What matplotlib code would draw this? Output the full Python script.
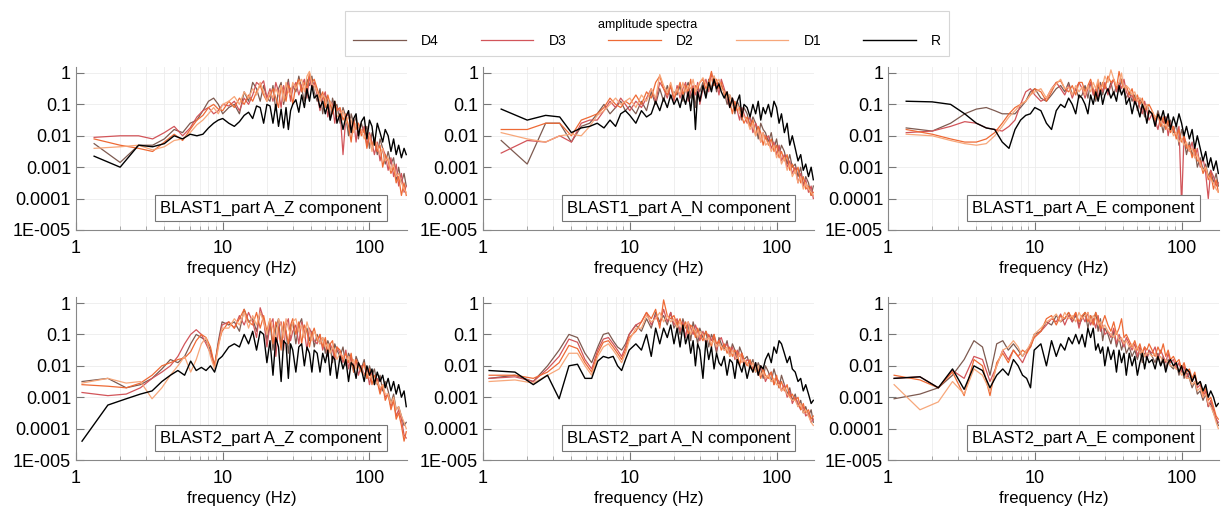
import numpy as np
import matplotlib
matplotlib.use('Agg')
import matplotlib.pyplot as plt
from matplotlib.ticker import LogLocator, NullFormatter

plt.rcParams['font.family'] = ['Liberation Sans', 'DejaVu Sans']

# frequency samples (Hz) picked along the curves
freq_hi = [21, 22, 23, 24, 25, 26, 27, 28, 29, 30,
           31.5, 33, 34.5, 36, 37.5, 39, 40.5, 42,
           44, 46, 48, 50, 52, 54, 56, 58, 60,
           63, 66, 69, 72, 75, 78, 81, 84,
           88, 92, 96, 100, 104, 108,
           113, 118, 123, 128,
           134, 140, 146, 152, 158,
           165, 172, 178]
freq_top = [1.33, 2.0, 2.67, 3.33, 4.0, 4.67, 5.33, 6.0, 6.67, 7.33,
            8.0, 8.67, 9.33, 10.0, 11.0, 12.0, 13.0, 14.0, 15.0, 16.0,
            17.0, 18.0, 19.0, 20.0] + freq_hi
freq_bot = [1.1, 1.65, 2.2, 2.75, 3.3, 3.85, 4.4, 4.95, 5.5, 6.05,
            6.6, 7.15, 7.7, 8.25, 8.8, 9.35, 9.9, 11.0, 12.0, 13.0,
            14.0, 15.0, 16.0, 17.0, 18.0, 19.0, 20.0] + freq_hi

# log10 of amplitude (first row of each list: up to 20 Hz)
# BLAST1 Z
b1z_D4 = [-2.25, -2.85, -2.3, -2.3, -2.1, -1.8, -1.9, -1.6, -1.5, -1.2, -0.9, -0.8, -1.0, -1.3, -1.1, -1.0, -1.3, -0.6, -0.9, -0.3, -0.5, -0.9, -0.4, -0.8,
          -0.9, -0.4, -1.2, -0.5, -0.3, -1.0, -0.6, -0.2, -0.8, -0.4, -0.6, -0.1, -0.5, -0.9, -0.2, -0.4, -0.1, -0.6,
          -0.9, -0.5, -1.3, -0.7, -0.9, -1.5, -0.8, -1.1, -1.0, -1.6, -1.1, -1.4, -2.0, -1.3, -1.6, -1.4, -2.1,
          -1.6, -1.9, -1.7, -2.4, -1.9, -2.1, -2.6, -2.1, -2.4, -2.9, -2.5, -2.9, -2.7, -3.4, -3.0, -3.5, -3.2, -3.6]
b1z_D3 = [-2.05, -2.0, -2.0, -2.1, -1.9, -1.7, -2.0, -1.75, -1.4, -1.2, -1.1, -1.3, -1.2, -1.0, -1.05, -0.9, -1.2, -0.8, -1.0, -0.7, -0.3, -0.4, -0.25, -0.8,
          -0.5, -0.9, -0.3, -0.6, -1.1, -0.4, -0.7, -0.3, -0.9, -0.5, -0.3, -0.7, -0.4, -0.2, -0.8, -0.1, -0.5, -0.3,
          -0.7, -1.2, -0.8, -0.6, -1.4, -0.9, -1.0, -1.6, -1.1, -1.2, -2.6, -1.4, -1.3, -1.8, -1.5, -2.2, -1.6,
          -1.9, -1.7, -2.3, -1.9, -2.2, -2.6, -2.2, -2.8, -2.4, -2.6, -3.1, -2.7, -3.3, -2.9, -3.6, -3.2, -3.8, -3.6]
b1z_D2 = [-2.1, -2.3, -2.4, -2.5, -2.2, -1.95, -2.15, -1.8, -1.5, -1.35, -1.1, -1.0, -1.15, -1.2, -0.9, -1.1, -0.8, -1.0, -0.7, -0.9, -0.6, -0.4, -0.7, -0.9,
          -0.7, -0.5, -0.8, -1.1, -0.4, -0.6, -0.9, -0.4, -0.5, -1.0, -0.4, -0.2, -0.6, -0.3, -0.5, 0.0, -0.3, -0.2,
          -0.5, -0.8, -0.6, -1.1, -0.7, -1.0, -1.3, -0.9, -1.2, -1.1, -1.5, -1.3, -1.7, -2.2, -1.5, -1.8, -1.6,
          -2.0, -1.8, -2.4, -2.0, -2.3, -2.1, -2.5, -2.3, -3.0, -2.6, -2.8, -3.2, -3.0, -3.5, -3.3, -3.9, -3.5, -3.9]
b1z_D1 = [-2.4, -2.35, -2.3, -2.45, -2.35, -2.15, -2.1, -1.9, -1.65, -1.5, -1.3, -1.1, -1.3, -1.0, -0.9, -0.75, -1.0, -0.6, -0.8, -0.5, -0.7, -0.3, -0.6, -0.9,
          -0.6, -0.8, -0.5, -0.7, -0.4, -0.9, -0.3, -0.6, -0.7, -0.3, -0.5, -0.3, -0.2, -0.6, -0.1, 0.05, -0.35, -0.4,
          -0.6, -0.9, -0.7, -0.8, -1.2, -0.9, -1.1, -1.0, -1.4, -1.3, -1.2, -1.6, -1.4, -1.5, -1.9, -1.6, -1.7,
          -1.8, -2.1, -1.9, -2.0, -2.5, -2.1, -2.3, -2.6, -2.4, -2.8, -2.7, -3.1, -2.9, -3.3, -3.2, -3.5, -3.7, -3.8]
b1z_R = [-2.65, -3.0, -2.3, -2.35, -2.25, -2.0, -2.1, -1.95, -2.0, -1.95, -1.75, -1.6, -1.5, -1.45, -1.6, -1.7, -1.55, -1.35, -1.25, -1.45, -1.05, -1.1, -1.6, -1.0,
         -1.05, -1.6, -1.0, -1.7, -1.15, -1.75, -1.1, -1.8, -1.2, -1.0, -0.85, -1.25, -0.7, -1.1, -0.5, -0.9, -0.4, -0.8,
         -0.7, -1.1, -0.9, -1.3, -1.0, -1.5, -1.2, -0.9, -1.6, -1.3, -1.8, -1.4, -1.2, -1.9, -1.45, -1.3, -2.0,
         -1.55, -1.4, -2.1, -1.5, -1.7, -2.3, -1.6, -1.9, -2.2, -1.8, -2.0, -2.5, -2.1, -2.6, -2.3, -2.7, -2.4, -2.6]

# BLAST1 N
b1n_D4 = [-2.15, -2.9, -1.6, -1.6, -2.2, -1.7, -1.6, -1.3, -1.0, -1.3, -1.1, -0.9, -1.2, -1.05, -1.3, -0.9, -1.2, -0.6, -1.0, -0.5, -0.9, -0.4, -0.8, -0.6,
          -0.7, -0.4, -0.9, -0.5, -0.3, -0.8, -0.5, -1.1, -0.4, -0.6, -0.3, -0.7, -0.2, -0.5, -0.1, -0.6, -0.3, -0.4,
          -0.6, -1.0, -0.7, -0.9, -1.3, -0.9, -1.1, -1.5, -1.1, -1.3, -1.7, -1.4, -1.6, -2.1, -1.6, -1.8, -1.9,
          -2.2, -1.9, -2.4, -2.1, -2.6, -2.3, -2.5, -2.9, -2.6, -3.0, -2.9, -3.3, -3.0, -3.6, -3.3, -3.5, -3.9, -3.6]
b1n_D3 = [-2.55, -2.15, -2.2, -2.0, -2.2, -1.6, -1.5, -1.5, -1.2, -0.9, -1.1, -0.8, -1.0, -1.2, -0.9, -1.1, -0.8, -0.5, -0.9, -0.3, -0.5, -0.8, -0.4, -0.9,
          -0.4, -0.8, -0.5, -0.3, -0.9, -0.6, -0.4, -0.7, -0.3, -1.0, -0.5, -0.2, -0.6, 0.0, -0.4, -0.3, -0.7, -0.2,
          -0.5, -0.8, -1.1, -0.8, -1.0, -1.2, -1.5, -1.1, -1.3, -1.6, -1.4, -1.9, -1.6, -1.8, -2.2, -1.9, -2.1,
          -2.0, -2.4, -2.2, -2.6, -2.3, -2.8, -2.6, -3.0, -2.8, -3.2, -3.0, -3.5, -3.2, -3.6, -3.4, -3.8, -3.6, -4.0]
b1n_D2 = [-1.8, -1.8, -1.6, -1.6, -2.0, -1.5, -1.4, -1.3, -1.1, -0.8, -1.0, -1.1, -0.9, -1.0, -0.7, -1.0, -0.6, -0.8, -0.3, -0.1, -0.5, -0.7, -0.4, -0.8,
          -0.6, -0.3, -0.7, -0.4, -0.6, -0.2, -0.8, -0.4, -0.5, -0.3, -0.2, -0.5, -0.3, 0.05, -0.4, -0.2, -0.5, -0.3,
          -0.7, -0.6, -0.9, -1.3, -0.9, -1.2, -1.1, -1.4, -1.6, -1.4, -1.7, -1.5, -2.0, -1.7, -1.9, -2.3, -2.0,
          -2.3, -2.1, -2.5, -2.3, -2.7, -2.5, -2.8, -2.6, -3.1, -2.9, -3.2, -3.0, -3.5, -3.3, -3.7, -3.6, -3.9, -3.8]
b1n_D1 = [-1.9, -2.1, -2.2, -2.0, -1.95, -2.0, -1.7, -1.35, -1.2, -1.0, -0.8, -1.0, -0.9, -0.8, -1.1, -0.7, -0.9, -0.5, -0.8, -0.05, -0.4, -0.6, -0.3, -0.7,
          -0.5, -0.7, -0.3, -0.6, -0.4, -0.5, -0.2, -0.6, -0.4, -0.3, -0.15, -0.35, -0.5, -0.2, -0.1, -0.3, -0.2, -0.5,
          -0.6, -0.8, -0.7, -1.0, -1.1, -1.0, -1.3, -1.2, -1.4, -1.5, -1.8, -1.6, -2.0, -1.8, -2.2, -1.9, -2.3,
          -2.2, -2.5, -2.3, -2.7, -2.5, -2.9, -2.7, -3.1, -2.9, -3.3, -3.1, -3.5, -3.3, -3.7, -3.5, -3.7, -3.8, -3.9]
b1n_R = [-1.15, -1.5, -1.35, -1.4, -1.9, -1.75, -1.7, -1.6, -1.75, -1.5, -1.7, -1.3, -1.2, -1.35, -1.6, -1.2, -1.4, -1.3, -0.9, -1.2, -0.8, -1.1, -0.7, -1.0,
         -0.8, -1.1, -0.7, -1.0, -0.6, -1.2, -0.5, -1.8, -0.6, -0.9, -0.4, -0.8, -0.3, -0.6, -0.2, -0.5, -0.35, -0.6,
         -0.8, -0.6, -1.1, -0.8, -1.2, -0.9, -0.7, -1.4, -1.0, -1.1, -1.4, -1.0, -1.3, -0.9, -1.5, -1.1, -1.3,
         -1.0, -1.4, -0.9, -1.1, -1.6, -1.3, -1.9, -1.6, -2.3, -2.0, -2.4, -2.8, -2.6, -3.1, -2.9, -3.3, -3.0, -3.4]

# BLAST1 E
b1e_D4 = [-1.75, -1.85, -1.6, -1.3, -1.15, -1.1, -1.2, -1.3, -1.3, -1.3, -1.1, -0.9, -0.6, -0.5, -0.8, -0.9, -0.7, -0.5, -0.4, -0.6, -0.3, -0.7, -0.5, -0.8,
          -0.7, -0.4, -0.8, -0.3, -0.6, -0.9, -0.5, -0.3, -0.7, -0.4, -0.6, -0.3, -0.7, -0.4, -0.6, -0.2, -0.5, -0.8,
          -0.6, -0.9, -0.7, -1.2, -0.8, -1.0, -1.4, -1.0, -1.2, -1.3, -1.6, -1.2, -1.5, -1.9, -1.4, -1.7, -1.5,
          -1.9, -1.6, -2.3, -1.8, -2.1, -2.6, -2.2, -2.6, -2.4, -3.0, -2.7, -3.1, -2.9, -3.3, -3.1, -3.5, -3.2, -3.6]
b1e_D3 = [-1.9, -1.85, -1.7, -1.55, -1.6, -1.75, -1.8, -1.85, -1.7, -1.5, -1.0, -0.6, -0.5, -0.7, -0.9, -0.8, -0.5, -0.3, -0.5, -0.7, -0.4, -0.8, -0.5, -0.3,
          -0.5, -0.8, -0.5, -0.3, -0.7, -0.5, -0.8, -0.4, -0.6, -0.3, -0.7, -0.4, -0.2, -0.6, -0.3, -0.5, -0.2, -0.6,
          -0.8, -0.7, -1.0, -0.8, -1.1, -1.3, -0.9, -1.2, -1.5, -1.3, -1.5, -1.8, -1.4, -1.6, -1.4, -2.0, -1.6,
          -1.8, -2.0, -1.7, -4.2, -2.0, -2.3, -2.5, -2.2, -2.7, -2.4, -3.0, -2.7, -3.2, -4.0, -3.1, -3.3, -3.6, -3.5]
b1e_D2 = [-1.8, -1.95, -2.1, -2.2, -2.2, -2.1, -1.9, -1.6, -1.3, -1.1, -1.0, -0.9, -0.7, -0.5, -0.6, -0.9, -0.6, -0.3, -0.25, -0.5, -0.6, -0.4, -0.7, -0.3,
          -0.3, -0.6, -0.4, -0.2, -0.5, -0.8, -0.3, -0.6, -0.3, -0.5, -0.1, -0.3, -0.2, -0.5, 0.05, -0.3, -0.5, -0.4,
          -0.7, -0.5, -0.9, -0.7, -1.0, -0.8, -1.2, -1.1, -1.0, -1.2, -1.5, -1.3, -1.7, -1.4, -1.8, -1.5, -1.9,
          -1.7, -2.1, -1.8, -2.2, -2.0, -2.4, -2.3, -2.7, -2.4, -2.8, -2.8, -3.2, -3.0, -3.4, -3.2, -3.7, -3.4, -3.8]
b1e_D1 = [-1.95, -2.0, -2.15, -2.25, -2.3, -2.25, -2.0, -1.7, -1.4, -1.2, -1.0, -0.9, -0.7, -0.6, -0.5, -0.8, -0.5, -0.35, -0.2, -0.5, -0.45, -0.7, -0.4, -0.6,
          -0.45, -0.7, -0.4, -0.6, -0.3, -0.5, -0.2, -0.5, -0.4, -0.1, -0.3, 0.1, -0.2, -0.4, -0.3, 0.0, -0.6, -0.4,
          -0.5, -0.7, -0.6, -0.9, -0.8, -0.9, -1.1, -1.0, -1.3, -1.2, -1.4, -1.3, -1.5, -1.7, -1.6, -1.8, -1.7,
          -2.0, -1.9, -2.2, -2.1, -2.3, -2.2, -2.5, -2.4, -2.7, -2.6, -2.9, -3.1, -3.0, -3.3, -3.4, -3.5, -3.7, -3.8]
b1e_R = [-0.9, -0.92, -1.0, -1.3, -1.6, -1.75, -1.8, -2.2, -2.4, -1.8, -1.5, -1.35, -1.3, -1.1, -1.2, -1.6, -1.8, -1.2, -1.0, -1.1, -0.8, -1.0, -1.3, -0.7,
         -0.8, -1.0, -1.3, -0.7, -1.0, -0.6, -0.9, -0.55, -1.0, -0.7, -0.5, -0.8, -0.6, -0.9, -0.4, -0.7, -0.5, -1.0,
         -0.8, -1.3, -0.9, -1.1, -1.4, -1.0, -1.2, -1.6, -1.2, -1.3, -1.7, -1.3, -1.5, -1.2, -1.6, -1.3, -1.8,
         -1.4, -1.7, -1.3, -1.6, -2.0, -1.7, -2.1, -1.8, -2.4, -2.0, -2.4, -2.8, -2.5, -3.0, -2.7, -3.1, -2.8, -3.2]

# BLAST2 Z
b2z_D4 = [-2.5, -2.4, -2.7, -2.6, -2.4, -2.1, -1.8, -1.9, -1.7, -1.3, -1.0, -1.1, -1.2, -1.5, -2.0, -1.2, -0.6, -0.7, -0.6, -0.9, -0.2, -0.6, -0.5, -0.9, -0.3, -0.5, -1.2,
          -0.6, -1.5, -0.8, -0.5, -1.4, -0.7, -0.9, -1.6, -0.8, -0.6, -1.3, -0.7, -0.5, -1.1, -0.8, -1.2, -0.9, -1.4,
          -1.0, -1.3, -1.1, -1.6, -1.2, -1.4, -1.9, -1.3, -1.5, -1.7, -1.4, -2.0, -1.6, -1.8, -2.2, -1.7, -1.9,
          -2.1, -1.8, -2.4, -2.0, -2.3, -2.1, -2.6, -2.3, -2.8, -2.5, -2.8, -3.2, -2.9, -3.4, -3.3, -3.6, -3.9, -3.8]
b2z_D3 = [-2.85, -2.95, -2.9, -2.7, -2.4, -2.2, -2.0, -1.7, -1.3, -1.0, -0.85, -1.0, -1.3, -1.6, -2.0, -1.3, -0.7, -0.6, -0.8, -0.4, -0.7, -0.3, -0.6, -1.1, -0.15, -0.5, -1.4,
          -0.7, -0.5, -1.7, -0.8, -0.6, -1.5, -0.7, -0.5, -1.2, -0.9, -0.7, -1.3, -0.6, -0.9, -1.5, -0.8, -1.0, -1.2,
          -1.3, -1.0, -1.5, -1.2, -1.7, -1.3, -1.5, -1.8, -1.4, -1.6, -1.9, -1.5, -2.1, -1.7, -2.0, -1.8, -2.3,
          -2.0, -2.3, -2.1, -2.6, -2.2, -2.5, -2.4, -2.8, -2.6, -3.0, -2.9, -3.3, -3.1, -3.6, -3.4, -3.7, -4.2, -4.3]
b2z_D2 = [-2.6, -2.65, -2.7, -2.55, -2.3, -2.0, -1.9, -1.8, -1.75, -1.55, -1.2, -1.0, -1.1, -1.4, -2.0, -1.3, -0.9, -0.6, -0.8, -0.5, -0.2, -0.6, -0.7, -0.3, -0.8, -0.4, -0.9,
          -0.5, -1.3, -0.6, -0.8, -1.5, -0.6, -0.9, -1.3, -0.7, -0.5, -1.0, -0.6, -1.3, -0.7, -0.9, -1.4, -1.0, -0.8,
          -1.2, -1.0, -1.4, -1.1, -1.6, -1.3, -1.2, -1.7, -1.4, -1.5, -1.8, -1.6, -1.9, -1.6, -2.2, -1.8, -2.0,
          -2.2, -1.9, -2.4, -2.1, -2.6, -2.3, -2.5, -2.9, -2.6, -3.1, -2.9, -3.4, -3.1, -3.7, -3.5, -3.9, -4.4, -4.1]
b2z_D1 = [-2.55, -2.4, -2.55, -2.5, -3.05, -2.7, -2.3, -2.0, -1.7, -2.2, -1.8, -1.3, -1.1, -1.7, -2.1, -1.4, -0.8, -0.8, -0.5, -0.7, -0.3, -0.8, -0.4, -0.7, -0.3, -0.6, -1.0,
          -0.5, -0.8, -1.2, -0.5, -0.7, -1.1, -0.5, -0.8, -1.0, -0.6, -0.5, -0.9, -0.7, -1.1, -0.6, -0.9, -1.2, -0.9,
          -1.1, -1.3, -1.1, -1.4, -1.3, -1.6, -1.4, -1.5, -1.8, -1.6, -1.7, -1.9, -1.7, -2.0, -1.8, -2.1, -1.9,
          -2.1, -2.3, -2.2, -2.4, -2.3, -2.6, -2.5, -2.7, -2.6, -2.9, -2.9, -3.2, -3.0, -3.4, -3.3, -3.6, -3.8, -4.0]
b2z_R = [-4.4, -3.25, -3.05, -2.9, -2.8, -2.5, -2.3, -2.15, -2.3, -1.85, -2.15, -2.05, -2.15, -2.0, -2.2, -1.8, -1.7, -1.4, -1.3, -1.4, -1.0, -1.3, -0.9, -1.5, -0.9, -1.0, -1.9,
         -1.2, -2.3, -1.1, -1.4, -2.5, -1.2, -1.3, -2.4, -1.3, -1.5, -2.2, -1.4, -1.3, -2.0, -1.4, -1.6, -2.2, -1.5,
         -1.6, -2.2, -1.6, -1.9, -1.5, -2.3, -1.7, -1.8, -2.4, -1.7, -2.1, -1.8, -2.5, -1.9, -2.0, -2.4, -1.9,
         -2.1, -2.5, -2.0, -2.3, -2.1, -2.6, -2.2, -2.5, -2.3, -2.7, -2.4, -2.8, -2.5, -2.9, -2.6, -3.0, -2.8, -3.3]

# BLAST2 N
b2n_D4 = [-2.4, -2.3, -2.5, -2.0, -1.5, -1.0, -1.1, -1.6, -1.9, -1.4, -1.0, -0.95, -1.2, -1.4, -1.5, -1.3, -1.0, -0.7, -0.9, -0.5, -0.8, -0.3, -0.6, -0.4, -0.7, -0.3, -0.8,
          -0.6, -1.0, -0.5, -0.8, -0.7, -1.2, -0.6, -0.9, -1.3, -0.8, -1.1, -0.9, -1.4, -1.0, -1.2, -1.6, -1.1, -1.3,
          -1.5, -1.2, -1.7, -1.3, -1.5, -1.9, -1.4, -1.6, -1.8, -1.7, -2.0, -1.8, -2.2, -1.9, -2.1, -2.4, -2.0,
          -2.2, -2.5, -2.1, -2.4, -2.7, -2.3, -2.6, -2.9, -2.7, -3.1, -2.9, -3.3, -3.1, -3.5, -3.3, -3.6, -3.4, -3.8]
b2n_D3 = [-2.4, -2.35, -2.5, -2.1, -1.7, -1.15, -1.25, -1.8, -2.1, -1.5, -1.15, -1.1, -1.3, -1.5, -1.7, -1.4, -1.0, -0.7, -0.6, -0.3, -0.7, -0.4, -0.7, -0.2, -0.6, -0.3, -0.7,
          -0.5, -0.9, -0.6, -1.1, -0.6, -0.8, -1.0, -0.7, -0.9, -1.2, -0.9, -1.3, -1.0, -1.2, -1.0, -1.5, -1.2, -1.1,
          -1.4, -1.3, -1.6, -1.4, -1.8, -1.5, -1.7, -1.6, -2.0, -1.8, -1.9, -2.1, -1.9, -2.3, -2.0, -2.2, -2.5,
          -2.3, -2.2, -2.6, -2.4, -2.5, -2.8, -2.6, -3.0, -2.8, -3.2, -3.0, -3.2, -3.4, -3.3, -3.6, -3.5, -3.8, -3.7]
b2n_D2 = [-2.3, -2.3, -2.4, -2.2, -1.9, -1.35, -1.45, -1.9, -2.2, -1.6, -1.25, -1.2, -1.4, -1.6, -1.8, -1.5, -1.1, -0.9, -0.6, -0.3, -0.5, -0.2, -0.8, 0.1, -0.4, -0.5, -0.4,
          -0.7, -0.5, -0.8, -0.6, -1.0, -0.7, -0.8, -1.1, -0.8, -1.0, -1.2, -0.9, -1.1, -1.4, -1.0, -1.3, -1.2, -1.5,
          -1.3, -1.6, -1.4, -1.7, -1.5, -1.6, -2.0, -1.6, -1.8, -2.0, -1.8, -2.2, -2.0, -2.1, -2.4, -2.1, -2.3,
          -2.4, -2.2, -2.6, -2.3, -2.7, -2.5, -2.8, -2.6, -3.0, -2.9, -3.1, -3.0, -3.4, -3.2, -3.5, -3.4, -3.7, -3.6]
b2n_D1 = [-2.5, -2.45, -2.55, -2.3, -2.1, -1.6, -1.6, -2.0, -2.3, -1.7, -1.4, -1.3, -1.5, -1.7, -1.9, -1.6, -1.2, -0.8, -0.8, -0.4, -0.6, -0.5, -0.3, -0.6, -0.4, -0.6, -0.5,
          -0.8, -0.6, -0.9, -0.7, -0.6, -1.0, -0.8, -0.9, -1.1, -0.9, -1.0, -1.2, -1.1, -1.3, -1.2, -1.4, -1.3, -1.4,
          -1.5, -1.4, -1.7, -1.5, -1.7, -1.8, -1.6, -1.9, -1.8, -1.9, -2.1, -1.9, -2.2, -2.0, -2.3, -2.2, -2.4,
          -2.3, -2.5, -2.4, -2.6, -2.6, -2.8, -2.7, -2.9, -3.0, -3.1, -3.1, -3.3, -3.2, -3.5, -3.4, -3.6, -3.8, -3.9]
b2n_R = [-2.15, -2.2, -2.6, -2.3, -3.05, -2.0, -1.95, -2.4, -2.4, -1.85, -1.7, -1.75, -1.7, -2.0, -2.15, -1.8, -1.5, -1.3, -1.5, -1.0, -1.7, -0.8, -1.3, -0.8, -1.1, -0.7, -1.3,
         -0.8, -1.4, -0.7, -1.3, -1.0, -1.6, -1.2, -2.0, -1.3, -1.5, -2.4, -1.2, -1.8, -1.4, -2.1, -1.6, -1.9, -2.0,
         -1.7, -2.3, -1.8, -1.9, -2.4, -1.8, -2.0, -2.2, -1.9, -2.4, -2.0, -2.2, -1.9, -2.3, -2.0, -2.1, -1.8,
         -1.6, -1.9, -1.4, -1.6, -1.2, -1.3, -1.6, -1.9, -1.7, -2.1, -2.2, -2.5, -2.4, -2.8, -2.6, -2.9, -3.2, -3.1]

# BLAST2 E
b2e_D4 = [-3.05, -2.9, -2.7, -2.3, -1.8, -1.2, -1.4, -2.3, -1.3, -1.2, -1.5, -1.3, -1.5, -1.7, -1.5, -1.4, -1.0, -0.9, -0.6, -0.7, -0.4, -0.6, -0.5, -0.3, -0.6, -0.4, -0.7,
          -0.5, -0.3, -0.8, -0.4, -0.6, -0.3, -0.9, -0.5, -1.2, -0.8, -1.0, -1.3, -0.9, -1.4, -1.1, -1.5, -1.2, -1.6,
          -1.4, -1.7, -1.5, -1.8, -1.5, -1.9, -1.6, -1.8, -1.5, -1.7, -1.9, -1.6, -2.0, -1.7, -2.1, -1.8, -2.0,
          -2.1, -1.9, -2.3, -2.0, -2.4, -2.2, -2.4, -2.7, -2.5, -2.9, -2.8, -3.1, -2.9, -3.3, -3.2, -3.5, -3.7, -3.9]
b2e_D3 = [-2.4, -2.35, -2.7, -2.15, -2.4, -1.7, -1.8, -2.5, -2.0, -1.5, -1.8, -1.5, -1.7, -1.9, -1.6, -1.3, -1.1, -0.9, -0.7, -0.5, -0.6, -0.35, -0.7, -0.4, -0.6, -0.3, -0.8,
          -0.4, -0.6, -0.3, -0.7, -0.5, -0.8, -0.4, -0.9, -0.7, -1.0, -0.9, -1.1, -0.8, -1.3, -1.0, -1.2, -1.4, -1.1,
          -1.3, -1.5, -1.3, -1.7, -1.4, -1.6, -1.4, -1.8, -1.5, -1.6, -1.4, -1.8, -1.5, -1.7, -1.9, -1.6, -1.9,
          -1.8, -2.1, -1.9, -2.2, -2.0, -2.4, -2.2, -2.5, -2.3, -2.7, -2.6, -3.0, -2.8, -3.3, -3.1, -3.4, -3.7, -3.8]
b2e_D2 = [-2.3, -2.45, -2.7, -2.2, -2.95, -1.8, -2.0, -2.95, -1.9, -1.6, -1.9, -1.5, -1.7, -1.5, -1.6, -1.4, -1.1, -0.9, -0.5, -0.4, -0.7, -0.4, -0.5, -0.3, -0.5, -0.3, -0.6,
          -0.4, -0.3, -0.6, -0.4, -0.7, -0.3, -0.5, -0.8, -0.6, -0.4, -0.7, -0.9, -0.6, -1.0, -0.8, -0.5, -1.1, -1.0,
          -1.2, -1.4, -1.2, -1.5, -1.3, -1.6, -1.4, -1.5, -1.3, -1.5, -1.7, -1.4, -1.6, -1.3, -1.7, -1.5, -1.8,
          -1.7, -1.9, -1.8, -2.1, -1.9, -2.2, -2.1, -2.4, -2.2, -2.6, -2.5, -2.9, -2.7, -3.1, -3.0, -3.3, -3.6, -3.7]
b2e_D1 = [-2.6, -3.4, -3.15, -2.5, -2.9, -2.1, -2.3, -2.8, -2.0, -1.5, -1.4, -1.2, -1.4, -1.7, -1.5, -1.3, -1.0, -0.8, -0.6, -0.5, -0.35, -0.6, -0.3, -0.5, -0.4, -0.6, -0.3,
          -0.5, -0.4, -0.3, -0.6, -0.4, -0.5, -0.7, -0.6, -0.8, -0.7, -0.9, -1.0, -1.1, -0.9, -1.2, -1.1, -1.3, -1.2,
          -1.4, -1.3, -1.5, -1.4, -1.6, -1.5, -1.7, -1.6, -1.6, -1.7, -1.6, -1.8, -1.7, -1.9, -1.8, -1.9, -2.0,
          -2.0, -2.1, -2.1, -2.3, -2.2, -2.4, -2.4, -2.6, -2.5, -2.8, -2.7, -3.0, -2.9, -3.2, -3.3, -3.5, -3.8, -4.0]
b2e_R = [-2.4, -2.35, -2.7, -2.1, -2.75, -2.0, -2.15, -2.7, -2.3, -2.1, -2.3, -1.8, -2.0, -2.3, -2.4, -2.7, -1.5, -1.3, -2.0, -1.2, -1.7, -1.3, -1.5, -1.1, -1.3, -1.0, -1.3,
         -1.0, -1.4, -0.8, -1.1, -0.8, -1.5, -1.3, -1.6, -1.4, -2.0, -1.4, -1.8, -1.5, -2.2, -1.5, -1.9, -1.6, -2.3,
         -1.6, -2.0, -1.7, -2.3, -1.9, -1.6, -2.1, -1.7, -1.9, -1.8, -2.1, -1.7, -2.0, -1.8, -2.2, -1.9, -1.8,
         -2.0, -1.9, -2.2, -2.0, -2.3, -2.1, -2.2, -2.5, -2.3, -2.6, -2.5, -2.8, -2.6, -3.0, -2.8, -3.0, -3.3, -3.2]

labels = ['D4', 'D3', 'D2', 'D1', 'R']
colors = ['#7d5a50', '#d2555a', '#ee6a35', '#f7a77a', '#000000']

panels = [
    ('BLAST1_part A_Z component', freq_top, [b1z_D4, b1z_D3, b1z_D2, b1z_D1, b1z_R]),
    ('BLAST1_part A_N component', freq_top, [b1n_D4, b1n_D3, b1n_D2, b1n_D1, b1n_R]),
    ('BLAST1_part A_E component', freq_top, [b1e_D4, b1e_D3, b1e_D2, b1e_D1, b1e_R]),
    ('BLAST2_part A_Z component', freq_bot, [b2z_D4, b2z_D3, b2z_D2, b2z_D1, b2z_R]),
    ('BLAST2_part A_N component', freq_bot, [b2n_D4, b2n_D3, b2n_D2, b2n_D1, b2n_R]),
    ('BLAST2_part A_E component', freq_bot, [b2e_D4, b2e_D3, b2e_D2, b2e_D1, b2e_R]),
]

# quick length check so a typo shows up clearly
for name, f, series in panels:
    for lab, s in zip(labels, series):
        if len(s) != len(f):
            raise ValueError(f'{name} {lab}: {len(s)} values, {len(f)} freqs')

fig = plt.figure(figsize=(12.21, 5.13), dpi=100)

lefts = [0.0622, 0.3956, 0.7273]
bottoms = [0.5517, 0.1033]
w, h = 0.2711, 0.3168

ytick_vals = [1e-5, 1e-4, 1e-3, 1e-2, 1e-1, 1]
ytick_txt = ['1E-005', '0.0001', '0.001', '0.01', '0.1', '1']

handles = []
for i, (name, f, series) in enumerate(panels):
    ax = fig.add_axes([lefts[i % 3], bottoms[i // 3], w, h])
    for lab, col, s in zip(labels, colors, series):
        ln, = ax.plot(f, 10 ** np.array(s), color=col, lw=0.9 if lab != 'R' else 1.0, label=lab)
        if i == 0:
            handles.append(ln)
    ax.set_xscale('log')
    ax.set_yscale('log')
    ax.set_xlim(1, 180)
    ax.set_ylim(1e-5, 1.5)
    ax.set_yticks(ytick_vals)
    ax.set_yticklabels(ytick_txt)
    ax.set_xticks([1, 10, 100])
    ax.set_xticklabels(['1', '10', '100'])
    ax.xaxis.set_minor_locator(LogLocator(base=10, subs=np.arange(2, 10)))
    ax.yaxis.set_minor_locator(LogLocator(base=10, subs=np.arange(2, 10)))
    ax.xaxis.set_minor_formatter(NullFormatter())
    ax.yaxis.set_minor_formatter(NullFormatter())
    ax.tick_params(which='major', direction='in', length=6, width=0.8, color='#777777', labelsize=13)
    ax.tick_params(axis='x', which='major', pad=7)
    ax.tick_params(which='minor', direction='in', length=3, width=0.6, color='#999999')
    ax.grid(True, which='both', color='#ececec', lw=0.6)
    ax.set_axisbelow(True)
    for side in ['top', 'right']:
        ax.spines[side].set_visible(False)
    for side in ['left', 'bottom']:
        ax.spines[side].set_color('#888888')
        ax.spines[side].set_linewidth(0.8)
    ax.set_xlabel('frequency (Hz)', fontsize=12, labelpad=3)
    ax.text(0.59, 0.135, name, transform=ax.transAxes, ha='center', va='center', fontsize=12,
            bbox=dict(boxstyle='square,pad=0.3', fc='white', ec='#777777', lw=0.8))

leg = fig.legend(handles, labels, loc='upper center', bbox_to_anchor=(0.53, 0.993), ncol=5,
                 title='amplitude spectra', fontsize=10, title_fontsize=9, handlelength=3.8,
                 handletextpad=1.1, columnspacing=3.0, frameon=True, fancybox=False,
                 borderpad=0.6, labelspacing=0.2)
leg.get_frame().set_edgecolor('#cccccc')
leg.get_frame().set_linewidth(0.8)

fig.savefig('out.png', dpi=100)
